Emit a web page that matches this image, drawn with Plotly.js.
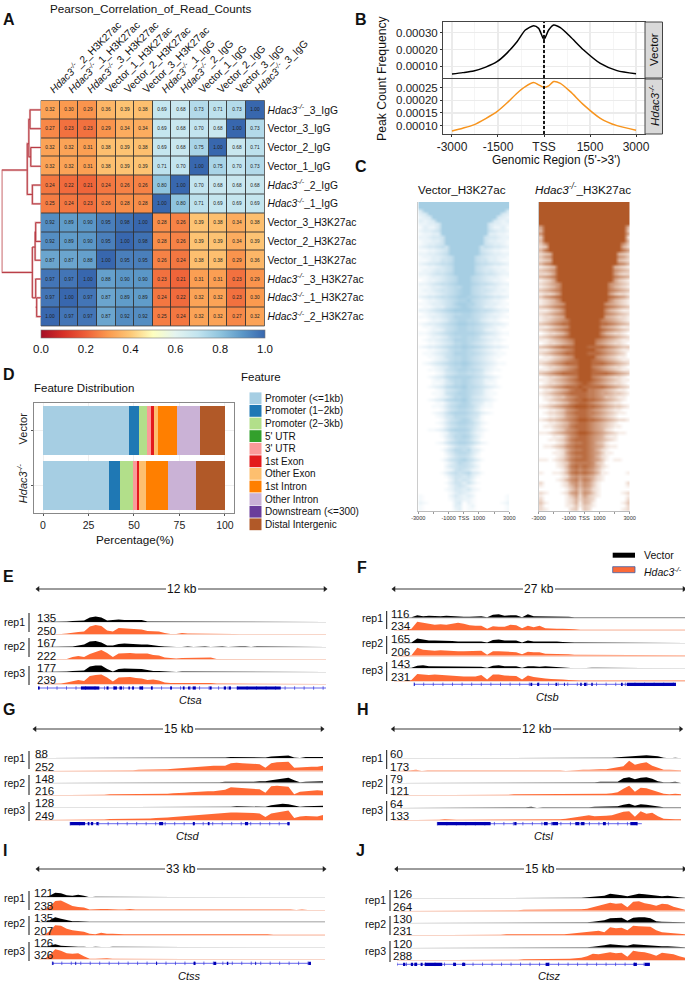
<!DOCTYPE html>
<html><head><meta charset="utf-8">
<script src="https://cdn.plot.ly/plotly-3.0.1.min.js"></script>
<style>html,body{margin:0;padding:0;background:#fff}</style></head>
<body><div id="chart" style="width:685px;height:984px"></div>
<script>
const W=685,H=984;
const KO='<i>Hdac3<sup>-/-</sup></i>';
// ---------- A: correlation ----------
const corrCols=[KO+'_2_H3K27ac',KO+'_1_H3K27ac',KO+'_3_H3K27ac','Vector_1_H3K27ac','Vector_2_H3K27ac','Vector_3_H3K27ac',KO+'_1_IgG',KO+'_2_IgG','Vector_1_IgG','Vector_2_IgG','Vector_3_IgG',KO+'_3_IgG'];
const corrRows=[KO+'_3_IgG','Vector_3_IgG','Vector_2_IgG','Vector_1_IgG',KO+'_2_IgG',KO+'_1_IgG','Vector_3_H3K27ac','Vector_2_H3K27ac','Vector_1_H3K27ac',KO+'_3_H3K27ac',KO+'_1_H3K27ac',KO+'_2_H3K27ac'];
const corrZ=[
[.32,.30,.29,.36,.39,.38,.69,.68,.73,.71,.73,1.00],
[.27,.23,.23,.29,.34,.34,.69,.68,.70,.68,1.00,.73],
[.32,.32,.31,.38,.39,.38,.69,.68,.75,1.00,.68,.71],
[.32,.32,.31,.38,.39,.39,.71,.70,1.00,.75,.70,.73],
[.24,.22,.21,.24,.26,.26,.80,1.00,.70,.68,.68,.68],
[.25,.24,.23,.26,.28,.28,1.00,.80,.71,.69,.69,.69],
[.92,.89,.90,.95,.98,1.00,.28,.26,.39,.38,.34,.38],
[.92,.89,.90,.95,1.00,.98,.28,.26,.39,.39,.34,.39],
[.87,.87,.88,1.00,.95,.95,.26,.24,.38,.38,.29,.36],
[.97,.97,1.00,.88,.90,.90,.23,.21,.31,.31,.23,.29],
[.97,1.00,.97,.87,.89,.89,.24,.22,.32,.32,.23,.30],
[1.00,.97,.97,.87,.92,.92,.25,.24,.32,.32,.27,.32]];
const corrScale=[[0,'#a50f26'],[.1,'#d73027'],[.2,'#ee5f38'],[.3,'#fb9a4f'],[.4,'#fdc877'],[.5,'#feffc0'],[.6,'#e4f4f0'],[.7,'#c2e4ef'],[.8,'#8fc4de'],[.9,'#5b97c7'],[1,'#3867ae']];
const dendroX=[.35,1,1,.22,null,0,.22,.22,0,null,.22,.35,.35,.31,null,.28,.31,.31,.26,null,0,.28,.28,0,null,0,.26,.26,0,null,.22,.22,null,.22,.15,null,0,.15,.15,.135,null,0,.135,.135,0,null,.22,.135,.135,0,null,.135,.11,null,0,.11,.11,0];
const dendroY=[3.2,3.2,8.65,8.65,null,4,4,5,5,null,4.5,4.5,1.8,1.8,null,.5,.5,2.5,2.5,null,0,0,1,1,null,2,2,3,3,null,7.3,10,null,7.3,7.3,null,8,8,6.5,6.5,null,6,6,7,7,null,10,10,9,9,null,10.5,10.5,null,10,10,11,11];
// ---------- B: peak profile ----------
const profX=[-3000,-2650,-2293,-1900,-1533,-1200,-880,-609,-337,-174,0,152,315,533,859,1293,1837,2380,3000];
const profVector=[.000054,.000062,.000072,.000095,.000127,.00018,.000246,.000316,.000342,.000326,.00026,.000316,.000346,.00033,.000276,.000197,.000117,.000074,.000056];
const profKO=[.000079,.00009,.000103,.000128,.000155,.00019,.000228,.000254,.00027,.000261,.000251,.000257,.000274,.000267,.000234,.000182,.000129,.0001,.000082];
// ---------- C: read density heatmaps (row strings, one digit per bin, 0-9) ----------
const heatVector=["999999999999999999999","999999999999999999999","499999999999999999994","349999999999999999943","234999999999999999432","323499999999999994323","223349999999999943322","132249999999999942231","233459999999999954332","122339999999999933221","223445999999999544322","122335999999999533221","123345999999999543321","234456599999995654432","112234599999995432211","223345699999996543322","122334569999965433221","112335569999965533211","234456679999976654432","112234569999965432211","122344569999965443221","223455679999976554322","112334567999765433211","012234567999765432210","223456678999876654322","112334567799765433211","122345567899765543221","112234567899765432211","234456678998876654432","012234567889765432210","112334568998865433211","011233567898765332110","223456789999876654322","012234567788765432210","112334568888765433211","001223467887764322100","123345678998876543321","011234567887765432110","001223567887765322100","112345678888876543211","001223467787764322100","012234568887765432210","001123457787654321100","123345678898876543321","001123467787654321100","011234568887765432110","001123567787654321100","000123467787654321000","012345678898765432110","000123467787654321000","001123567887765321100","000012456776654210000","001234678888765432100","000122467787654221000","000112457787654211000","001234678897765432100","000012456787654210000","000112567887654211000","000012357787543210000","001234678897654321000","000011356787543110000","000112467887642110000","000001356776531000000","000123578887653210000","000012457776541000000","000001356787531000000","000012467887642100000","000001356776531000000","001123578887532100000","000001256776421000000","000001357787531000000","000000246776420000000","000012467887642100000","000000135665310000000","000001357767431000000","000000246776420000000","000000135665310000000","000001356786531000000","000000135765310000000","000000245665420000000","000000125654210000000","000001356567431000000","000000135545310000000","000000025454200000000","000000135535310000000","000000024542100000000","000000124434210000000","000000013432100000000","100000024323200000001","100000013322100000001","210000003402100000012","100000003301200000001","100000002301100000001"];
const heatKO=["999999999999999999999","999999999999999999999","999999999999999999999","999999999999999999999","999999999999999999999","999999999999999999999","999999999999999999999",
"599999999999999999994","499999999999999999993","699999999999999999995","399999999999999999992","499999999999999999994",
"369999999999999999963","239999999999999999942","479999999999999999975",
"234999999999999999432","356999999999999999653","234999999999999999432","467999999999999999764",
"123499999999999994321","345699999999999996543","223599999999999995322","456799999999999997654","123599999999999995321",
"234569999999999965432","123469999999999964321","345679999999999976543","122359999999999953221","356789999999999987653","123469999999999964321",
"123456999999999654321","345678999999999876543","112346999999999643211","234567999999999765432","122345999999999543221",
"123456799999997654321","345678899999998876543","112345699999996543211","234567899999998765432","012234699999996432210","234567899999998765432",
"112345679999976543211","012234569999965432210","345678889998888765433".slice(0,21),"112345679999976543211","234567889998887654320".slice(0,21),"011234569999965432110",
"112345678999876543211","234567888999888765432","012234567999765432210","112345678999876543211","345678888999888876543","012234567999765432210","112345678999876543211",
"012234567898765432210","234567888988888765432",
"011234578897765432110","123456788887765543321","011233567887765332110","012345678898876543210","001123467887654321100","123456789998876543321","001123567887654321100","012234678887765432110","001123567887654321000","123345678998876543221","001123467887654321000","011234578887654321100","000123567887654210000","112345678998765432110","000112467887654211000","001123578887654321000","000012467787643100000","011234678887654211000","000012467787642100000","000112578887653110000","000012467787642100000","110123578887653101100","000012367777632000000","000012478787642100000","000001367676531000000","100112478787641100001","000001256565421000000","000012467576421000000","200001256465310000002","100001246465310000001","000000135354210000000","210001256365310000012","100000135253210000001","200000124243200000002","310000124143100000013","200000113132100000002","210000023032000000012"];
// ---------- D: feature distribution ----------
const features=['Promoter (<=1kb)','Promoter (1\u22122kb)','Promoter (2\u22123kb)',"5' UTR","3' UTR",'1st Exon','Other Exon','1st Intron','Other Intron','Downstream (<=300)','Distal Intergenic'];
const featureColors=['#a6cee3','#1f78b4','#b2df8a','#33a02c','#fb9a99','#e31a1c','#fdbf6f','#ff7f00','#cab2d6','#6a3d9a','#b15928'];
const featVector=[47.4,5.5,4.4,.1,1.7,1.7,2.4,10.4,12.7,0,13.7];
const featKO=[36.1,6.4,6.8,.05,2.15,1.5,3.4,12.1,15.7,0,15.8];
// ---------- E-J: tracks (height per 2% of the window) ----------
const ctsa=[[0,0,0,0,1,1,2,2,3,9,11,9,3,4,5,4,4,5,4,1,1,1,1,0,1,0,0,0,1,0,0,0,0,1,0,0,1,0,0,0,0,1,0,0,1,0,0,1,0,0,0],
[0,0,0,0,1,2,4,5,6,16,19,17,8,6,13,12,12,11,10,7,7,6,3,1,1,3,2,2,2,1,1,1,1,1,1,0,0,0,0,0,0,0,0,0,0,0,0,0,0,0,0],
[0,0,0,0,0,1,1,3,5,11,12,9,3,3,6,7,6,6,5,5,3,2,1,0,0,0,1,0,1,1,0,1,1,0,1,1,1,0,1,1,1,0,1,1,0,0,1,0,0,1,0],
[0,0,0,0,0,1,5,7,5,11,15,19,13,5,12,13,13,12,12,12,9,8,4,3,2,3,3,4,4,3,4,1,1,1,1,1,1,1,1,1,1,1,1,1,1,1,1,1,1,1,0],
[0,0,0,0,0,1,2,3,3,11,13,13,6,1,6,7,7,6,6,4,2,2,1,0,0,1,1,0,1,0,0,1,0,0,1,1,0,1,0,0,0,1,0,0,1,1,0,0,1,0,0],
[0,0,1,0,1,3,6,8,6,16,18,19,13,5,13,14,14,12,11,8,9,7,3,2,2,3,2,2,2,2,2,1,1,1,1,1,1,1,1,1,1,1,1,1,1,1,1,1,1,1,0]];
const ctsb=[[0,0,0,1,5,3,4,3,3,4,3,2,2,2,3,3,1,6,7,4,5,5,1,7,3,3,3,2,3,2,2,1,1,1,1,0,1,1,0,1,0,1,1,1,1,1,1,1,1,1,1],
[0,0,1,3,17,15,13,11,12,11,13,15,13,10,9,9,3,8,7,7,11,10,4,9,6,9,4,3,3,3,3,2,1,1,1,1,1,1,1,1,1,1,1,1,1,1,0,1,1,1,1],
[0,0,0,1,9,7,5,5,5,5,4,3,3,3,3,3,1,6,7,5,5,5,1,5,3,3,4,3,3,2,1,1,1,1,1,1,1,1,1,0,1,0,1,1,1,0,0,1,1,1,0],
[0,0,0,1,16,12,11,10,11,10,10,9,9,9,9,10,2,9,9,8,8,7,3,8,7,7,4,4,4,3,3,2,2,1,2,1,1,1,1,1,1,1,1,1,1,1,1,1,1,1,1],
[0,0,0,1,5,6,4,4,4,3,3,3,3,3,3,3,1,5,6,4,4,4,1,4,4,3,4,3,2,2,1,0,0,1,1,1,1,1,1,0,0,1,0,0,1,0,0,0,1,0,0],
[0,0,0,2,14,13,12,13,12,11,10,9,9,9,9,12,3,13,13,11,10,10,3,11,8,6,5,4,4,3,2,1,1,1,1,1,1,1,1,1,1,1,1,1,1,1,1,1,1,1,1]];
const ctsd=[[0,1,0,0,0,0,1,0,0,0,0,0,1,0,0,0,0,0,0,1,0,0,0,0,0,0,1,1,1,1,1,1,0,1,2,2,2,2,1,1,1,3,4,4,5,1,0,2,2,2,2],
[0,0,0,0,0,1,1,1,1,1,1,1,1,1,1,1,1,1,2,2,2,3,3,3,4,5,5,6,7,8,9,10,10,10,15,16,15,14,14,13,6,15,17,18,18,6,7,8,8,8,10],
[0,0,0,1,0,0,1,0,1,0,0,1,0,0,1,0,1,0,0,0,1,0,1,0,1,0,0,1,0,0,1,0,1,2,2,1,1,2,2,3,3,5,7,9,10,5,1,2,2,2,3],
[0,0,0,0,0,1,1,1,1,1,1,1,1,2,2,2,2,2,2,3,3,3,3,3,4,4,5,6,7,7,8,8,9,11,16,15,14,14,13,12,5,18,19,18,17,2,7,8,9,10,9],
[0,0,0,0,1,0,0,0,0,1,0,0,0,1,0,1,0,0,1,0,0,0,1,0,0,1,1,1,0,0,1,1,1,1,1,2,2,2,2,1,1,4,6,7,6,4,1,2,2,2,3],
[0,0,0,0,1,1,1,1,1,1,1,1,1,2,2,2,2,3,3,3,3,4,4,5,6,7,8,9,10,11,12,13,13,14,15,15,15,15,14,13,6,13,15,17,19,4,7,8,7,7,10]];
const ctsl=[[0,0,0,0,0,0,0,0,0,0,0,0,0,1,0,0,0,0,0,0,0,0,0,0,0,0,0,0,0,0,0,0,0,1,1,0,0,0,1,2,3,4,4,6,6,5,4,1,0,1,0],
[0,0,0,1,2,0,1,1,1,1,1,1,1,1,1,1,1,1,1,2,1,2,1,1,1,1,2,2,2,1,0,1,1,2,2,3,3,3,5,6,9,20,12,15,17,10,6,2,2,1,1],
[0,0,0,0,0,0,0,1,0,0,0,0,0,0,0,1,0,0,0,0,0,0,0,0,0,1,1,0,0,0,0,0,0,1,1,1,2,2,3,2,9,11,7,10,11,8,3,1,1,2,0],
[0,0,0,1,0,0,1,0,1,0,1,1,1,1,1,1,1,1,1,1,1,2,2,3,3,2,2,3,3,2,2,2,2,2,3,3,3,3,4,6,13,19,7,15,14,10,6,3,2,3,2],
[0,0,0,0,1,1,1,0,1,1,0,1,0,1,1,0,1,0,1,1,1,0,1,1,2,0,1,1,0,0,0,1,0,0,1,2,2,2,2,3,6,8,4,7,6,4,2,1,1,1,1],
[0,0,0,1,0,1,0,1,1,2,1,1,1,1,1,2,1,1,1,2,2,2,1,1,1,1,1,1,1,2,3,5,7,9,10,8,8,9,10,14,17,18,7,18,13,15,8,3,2,2,2]];
const ctss=[[0,0,3,9,8,4,3,5,3,0,1,1,0,1,1,0,1,0,1,1,0,1,1,0,1,0,1,1,0,1,0,1,1,0,1,0,1,1,0,1,0,1,1,0,1,1,0,1,0,1,0],
[0,0,6,18,19,13,8,6,5,1,2,2,2,1,1,1,2,1,1,1,1,2,1,1,1,1,1,1,1,1,1,1,1,1,1,1,1,1,1,1,1,1,1,1,1,0,1,0,0,0,0],
[0,0,4,10,7,4,2,2,1,1,1,1,2,1,1,1,1,1,1,1,1,1,1,1,2,1,1,1,1,1,1,1,1,1,1,1,1,1,1,1,1,1,1,1,1,1,1,1,1,1,1],
[0,0,8,20,19,13,10,9,7,3,2,5,3,3,2,2,2,2,2,2,2,2,3,2,2,2,2,2,2,2,2,2,2,2,2,2,2,2,2,2,2,1,1,1,1,1,1,1,1,1,1],
[0,0,3,6,3,2,1,1,1,0,1,0,0,1,1,1,1,1,1,1,1,1,0,1,0,1,1,1,0,0,1,1,1,1,0,1,1,1,1,1,1,1,1,1,1,1,1,1,1,1,0],
[0,0,8,20,17,12,11,12,6,1,1,2,2,1,1,1,1,1,1,1,1,1,1,1,1,1,1,1,1,0,0,1,1,1,0,1,0,0,0,0,0,0,0,0,0,0,0,0,0,0,0]];
const ctsz=[[0,0,0,0,0,0,0,0,0,0,0,0,0,0,0,0,0,0,0,0,0,0,0,0,0,0,0,0,0,0,0,1,1,2,3,4,5,9,8,6,4,7,9,8,7,6,4,5,3,2,1],
[0,0,0,0,0,0,0,0,0,0,0,0,0,0,1,1,1,1,1,1,1,1,2,2,2,2,3,2,2,2,2,2,3,4,7,11,13,16,14,15,7,18,19,15,13,10,14,13,8,5,2],
[0,0,0,1,0,0,0,0,0,0,1,0,0,0,1,0,1,0,1,1,1,1,1,0,0,1,0,0,1,1,1,1,1,1,2,3,5,9,9,10,4,10,11,11,9,3,2,2,2,1,1],
[0,0,0,0,0,0,0,0,1,1,1,1,1,1,1,1,1,1,1,2,2,2,2,2,2,1,1,1,2,2,3,4,5,6,7,9,6,16,14,15,10,19,18,18,17,10,6,5,4,3,2],
[0,0,0,0,0,0,0,0,0,0,0,0,0,0,0,1,1,1,1,1,1,1,1,1,1,1,1,1,1,1,1,1,1,1,2,3,5,7,6,6,4,7,6,6,5,3,3,3,2,1,1],
[0,0,0,0,0,0,0,0,1,1,1,1,1,1,1,1,1,1,1,1,1,1,2,2,2,2,2,2,2,2,3,4,5,8,13,12,14,16,14,15,7,19,17,16,13,9,15,13,12,8,5]];
const exonsA=[[0,.6],[14.9,21.3],[23.8,24.5],[26.2,27.4],[28.3,29.2],[31.4,31.9],[32.7,33.3],[35.2,36.5],[39.2,39.8],[45.9,46.5],[50.3,50.9],[52.1,52.7],[53.7,54.8],[59.6,60.3],[64.5,65.3],[66.3,67],[69,84.3]];
const exonsB=[[6.9,7.1],[46.9,47.5],[49.2,49.8],[55.5,56],[58.4,58.7],[64,64.5],[65.3,66.1],[67.8,68.3],[78,78.6],[80,96.9]];
const exonsD=[[12.2,17.4],[18.3,18.8],[19.4,20.2],[21.3,22],[43.1,44.5],[54.8,55.5],[60,60.6],[72.9,74],[87.6,88.4]];
const exonsL=[[15.4,33.9],[42.1,42.9],[52.4,53.7],[55.3,57.3],[63.3,64.6],[65.3,66.5],[72.9,73.9],[82.4,84.9]];
const exonsS=[[5,5.4],[13,13.3],[41.2,41.5],[54.2,54.9],[61.2,62.1],[65.8,66.3],[75.7,76],[94.2,95.1]];
const exonsZ=[[2.1,2.9],[4.8,5.6],[6,7],[8.2,8.9],[9.6,15.7],[19.5,20.5],[22.6,23.7],[51.6,52.8],[82.1,83.3],[86,87.8]];
const panels=[
 {gene:'Ctsa',size:'12 kb',tracks:ctsa,scale:[135,250,167,222,177,239],exons:exonsA,span:[0,100],x0:38,x1:326,arrow:[38,325],ay:589,base:[622,634.5,647,659.5,672,684],gy:688,name:[190,700],repY:[622,646,673],barX:29,bars:[[613,632],[638,657],[666,685]],repX:25,numX:37},
 {gene:'Ctsb',size:'27 kb',tracks:ctsb,scale:[116,234,165,206,143,231],exons:exonsB,span:[6.9,96.9],x0:394,x1:685,arrow:[394,684],ay:589,base:[617.7,630.3,643,655.7,668.3,681],gy:684.3,name:[547,697],repY:[618,643,670],barX:386.7,bars:[[611,629],[636,654],[662,681]],repX:383,numX:391},
 {gene:'Ctsd',size:'15 kb',tracks:ctsd,scale:[88,252,148,216,128,249],exons:exonsD,span:[12.2,88.4],x0:35,x1:323,arrow:[35,322],ay:729,base:[758,770.7,782.7,795.3,807.3,820],gy:823.7,name:[188,836],repY:[758,783,810],barX:29,bars:[[751,769],[775,795],[802,821]],repX:25,numX:35},
 {gene:'Ctsl',size:'12 kb',tracks:ctsl,scale:[60,173,79,121,64,133],exons:exonsL,span:[15.4,86.4],x0:393,x1:681,arrow:[393.3,680.7],ay:729,base:[758.3,770.7,782.7,795.3,807.7,820.3],gy:823.7,name:[544,836],repY:[757.7,782.7,810],barX:386.7,bars:[[750,769],[775,794],[801,821]],repX:383,numX:390},
 {gene:'Ctss',size:'33 kb',tracks:ctss,scale:[121,238,135,207,126,326],exons:exonsS,span:[5,95.1],x0:38,x1:325,arrow:[38,324],ay:869,base:[897.3,910,922.3,935.3,947.3,959.3],gy:963.3,name:[189,976],repY:[898,923,951],barX:29,bars:[[891,910],[916,935],[942,961]],repX:25,numX:34},
 {gene:'Ctsz',size:'15 kb',tracks:ctsz,scale:[126,264,130,231,120,288],exons:exonsZ,span:[0,87.8],x0:397,x1:685,arrow:[396.7,684],ay:869,base:[898.3,910.7,922.7,935.3,947.7,960.3],gy:964.3,name:[549,976],repY:[900,924,951],barX:390,bars:[[890,911],[916,935],[941,962]],repX:386,numX:393}];
const panelLetters=[['A',3,20],['B',355,20],['C',355,166],['D',3,374],['E',3,576],['F',357,567],['G',3,709],['H',357,709],['I',3,850],['J',356,850]];

// ---------- layout helpers ----------
const FONT='"Liberation Sans",Arial,sans-serif';
const traces=[],shapes=[],annotations=[];
const layout={width:W,height:H,margin:{l:0,r:0,t:0,b:0},paper_bgcolor:'#fff',plot_bgcolor:'#fff',showlegend:false,autosize:false,font:{family:FONT,size:11,color:'#111'},shapes,annotations,barmode:'stack'};
let axN=0;
const fx=x=>x/W, fy=y=>1-y/H;
function axes(x0,y0,x1,y1,xa,ya){axN++;const s=axN===1?'':axN;
 layout['xaxis'+s]=Object.assign({domain:[fx(x0),fx(x1)],anchor:'y'+s,showgrid:false,zeroline:false},xa);
 layout['yaxis'+s]=Object.assign({domain:[fy(y1),fy(y0)],anchor:'x'+s,showgrid:false,zeroline:false},ya);
 return {xaxis:'x'+s,yaxis:'y'+s};}
function text(x,y,t,size,o){annotations.push(Object.assign({xref:'paper',yref:'paper',x:fx(x),y:fy(y),text:t,showarrow:false,font:{size:size,family:FONT,color:'#111'},xanchor:'center',yanchor:'middle',borderpad:0,borderwidth:0},o||{}));}
function rect(x0,y0,x1,y1,o){shapes.push(Object.assign({type:'rect',xref:'paper',yref:'paper',x0:fx(x0),x1:fx(x1),y0:fy(y0),y1:fy(y1)},o));}

// Panel letters
panelLetters.forEach(p=>text(p[1],p[2],'<b>'+p[0]+'</b>',16,{xanchor:'left'}));

// ---------- A ----------
const idx=corrCols.map((_,i)=>i), rowIdx=corrRows.map((_,i)=>i);
rect(41,100.5,264.5,326,{line:{color:'#555',width:.8},fillcolor:'#333',layer:'below'});
let a=axes(41,100.5,264.5,326,
 {side:'top',range:[-.5,11.5],tickvals:idx,ticktext:corrCols,tickangle:-45,ticklen:0,tickfont:{size:10.3,family:FONT,color:'#111'},showline:false},
 {side:'right',range:[11.5,-.5],tickvals:rowIdx,ticktext:corrRows,ticklen:0,tickfont:{size:10.3,family:FONT,color:'#111'},showline:false});
traces.push(Object.assign({type:'heatmap',z:corrZ,x:idx,y:rowIdx,zmin:0,zmax:1,colorscale:corrScale,xgap:.9,ygap:.9,hoverinfo:'skip',
 texttemplate:'%{z:.2f}',textfont:{size:4.8,color:'#222',family:FONT},
 colorbar:{orientation:'h',x:fx(41),xanchor:'left',y:fy(330),yanchor:'top',lenmode:'pixels',len:223.5,thicknessmode:'pixels',thickness:8,xpad:0,ypad:0,outlinewidth:.6,outlinecolor:'#777',tickvals:[0,.2,.4,.6,.8,1],ticktext:['0.0','0.2','0.4','0.6','0.8','1.0'],ticks:'',tickfont:{size:11.5,family:FONT,color:'#111'}}},a));
text(151,8,'Pearson_Correlation_of_Read_Counts',11.7);
let d=axes(1.7,100.5,41,326,{range:[1,0],visible:false},{range:[11.5,-.5],visible:false});
traces.push(Object.assign({type:'scatter',mode:'lines',x:dendroX,y:dendroY,line:{color:'#e3b3b3',width:2.2},hoverinfo:'skip'},d));
traces.push(Object.assign({type:'scatter',mode:'lines',x:dendroX,y:dendroY,line:{color:'#b22a36',width:.9},hoverinfo:'skip'},d));

// ---------- B ----------
const bX={range:[-3293,3293],showgrid:true,gridcolor:'#ebebeb',gridwidth:1.4,tickvals:[-3000,-1500,0,1500,3000],showline:true,mirror:true,linecolor:'#444',linewidth:1,
 minor:{showgrid:true,gridcolor:'#f1f1f1',gridwidth:.7,tickvals:[-2250,-750,750,2250]}};
const bY=o=>Object.assign({showgrid:true,gridcolor:'#ebebeb',gridwidth:1.4,showline:true,mirror:true,linecolor:'#444',linewidth:1,ticks:'outside',ticklen:2,tickcolor:'#333',tickfont:{size:11.5,family:FONT,color:'#222'},tickformat:'.5f'},o);
let b1=axes(443,22,645,78,Object.assign({},bX,{showticklabels:false,ticks:''}),bY({range:[.00003,.000364],tickvals:[.0001,.0002,.0003]}));
traces.push(Object.assign({type:'scatter',mode:'lines',x:profX,y:profVector,line:{color:'#000',width:1.5,shape:'spline',smoothing:.7},hoverinfo:'skip'},b1));
let b2=axes(443,79,645,134,Object.assign({},bX,{ticktext:['-3000','-1500','TSS','1500','3000'],ticks:'outside',ticklen:2,tickcolor:'#333',tickfont:{size:12,family:FONT,color:'#222'}}),bY({range:[.000067,.000284],tickvals:[.0001,.00015,.0002,.00025]}));
traces.push(Object.assign({type:'scatter',mode:'lines',x:profX,y:profKO,line:{color:'#f7941d',width:1.5,shape:'spline',smoothing:.7},hoverinfo:'skip'},b2));
[b1,b2].forEach(ax=>shapes.push({type:'line',xref:ax.xaxis,yref:ax.yaxis+' domain',x0:0,x1:0,y0:0,y1:1,line:{color:'#000',width:1.8,dash:'3px,2px'}}));
rect(645,22,662.5,78,{fillcolor:'#d9d9d9',line:{color:'#444',width:1}});
rect(645,79,662.5,134,{fillcolor:'#d9d9d9',line:{color:'#444',width:1}});
text(654,50,'Vector',11.5,{textangle:-90});
text(654,106,KO,11.5,{textangle:-90});
text(382,78,'Peak Count Frequency',12.2,{textangle:-90});
text(556,160,"Genomic Region (5'->3')",11.9);

// ---------- C ----------
function heat(strs,x0,x1,color){
 const z=strs.map(s=>s.split('').map(Number));
 const ax=axes(x0,202,x1,510.7,
  {range:[-3000,3000],tickvals:[-3000,-1000,0,1000,3000],ticktext:['-3000','-1000','TSS','1000','3000'],ticks:'outside',ticklen:2,tickcolor:'#999',showline:true,linecolor:'#bbb',linewidth:1,tickfont:{size:5.6,family:FONT,color:'#333'},minor:{tickvals:[-2000,2000],ticks:'outside',ticklen:2,tickcolor:'#999'}},
  {range:[strs.length-.5,-.5],showticklabels:false,ticks:'',showline:true,linecolor:'#ccc',linewidth:1});
 traces.push(Object.assign({type:'heatmap',z:z,x0:-3000+6000/42,dx:6000/21,y0:0,dy:1,zmin:0,zmax:9,zsmooth:'best',colorscale:[[0,'#ffffff'],[1,color]],showscale:false,hoverinfo:'skip'},ax));
}
heat(heatVector,418.3,509.3,'#a6cee3');
heat(heatKO,538.7,629.7,'#b15928');
text(462,189,'Vector_H3K27ac',11.7);
text(583,189,KO+'_H3K27ac',11.7);

// ---------- D ----------
const featCats=['Vector',KO];
let f=axes(34.3,403,234,512.7,
 {range:[-4.8,105],tickvals:[0,25,50,75,100],showgrid:true,gridcolor:'#efefef',gridwidth:1,showline:true,mirror:true,linecolor:'#888',linewidth:1.3,ticks:'outside',ticklen:2,tickcolor:'#555',tickfont:{size:10.5,family:FONT,color:'#222'}},
 {type:'category',categoryorder:'array',categoryarray:[KO,'Vector'],showgrid:true,gridcolor:'#efefef',gridwidth:1,showline:true,mirror:true,linecolor:'#888',linewidth:1.3,ticks:'outside',ticklen:2,tickcolor:'#555',tickangle:-90,tickfont:{size:11,family:FONT,color:'#222'}});
features.forEach((n,i)=>traces.push(Object.assign({type:'bar',orientation:'h',name:n,y:featCats,x:[featVector[i],featKO[i]],width:.9,marker:{color:featureColors[i],line:{width:0}},hoverinfo:'skip'},f)));
text(34,388,'Feature Distribution',11.5,{xanchor:'left'});
text(135,539,'Percentage(%)',11.7);
text(241,377,'Feature',11.5,{xanchor:'left'});
features.forEach((n,i)=>{const y=398.3+12.6*i;
 rect(249.5,y-5.9,261.5,y+5.9,{fillcolor:featureColors[i],line:{width:0}});
 text(265,y,n,10,{xanchor:'left'});});

// ---------- E-J ----------
panels.forEach(p=>{
 const sa=axes(p.arrow[0],p.ay-3,p.arrow[1],p.ay+3,{range:[0,100],visible:false},{range:[-1,1],visible:false});
 traces.push(Object.assign({type:'scatter',mode:'lines+markers',x:[0,100],y:[0,0],cliponaxis:false,line:{color:'#222',width:.9},marker:{symbol:['triangle-left','triangle-right'],size:5,color:'#222'},hoverinfo:'skip'},sa));
 text((p.arrow[0]+p.arrow[1])/2,p.ay,p.size,12,{bgcolor:'#fff',borderpad:1});
 p.tracks.forEach((vals,i)=>{
  const ax=axes(p.x0,p.base[i]-12,p.x1,p.base[i],{range:[0,100],showticklabels:false,ticks:'',showline:true,linecolor:i%2?'#f5c4b2':'#d8d8d8',linewidth:.7},{range:[0,24],visible:false});
  traces.push(Object.assign({type:'scatter',mode:'lines',x:vals.map((_,k)=>k*2),y:vals,fill:'tozeroy',fillcolor:i%2?'#ff6a35':'#000',line:{width:0},hoverinfo:'skip'},ax));
  text(p.numX,p.base[i]-4,String(p.scale[i]),11.5,{xanchor:'left'});
 });
 const gx=axes(p.x0,p.gy-3,p.x1,p.gy+3,{range:[0,100],visible:false},{range:[-1,1],visible:false});
 const strand=[];for(let s=p.span[0];s<=p.span[1];s+=3.3)strand.push(s);
 traces.push(Object.assign({type:'scatter',mode:'lines',x:p.span,y:[0,0],line:{color:'#4040e8',width:.8},hoverinfo:'skip'},gx));
 traces.push(Object.assign({type:'scatter',mode:'markers',x:strand,y:strand.map(()=>0),marker:{symbol:'line-ns',size:2.5,line:{color:'#3030d8',width:.7}},hoverinfo:'skip'},gx));
 const ex=[],ey=[];p.exons.forEach(e=>{ex.push(e[0],e[1],null);ey.push(0,0,null);});
 traces.push(Object.assign({type:'scatter',mode:'lines',x:ex,y:ey,line:{color:'#0000b4',width:3.2},hoverinfo:'skip'},gx));
 text(p.name[0],p.name[1],'<i>'+p.gene+'</i>',11);
 ['rep1','rep2','rep3'].forEach((r,i)=>{
  text(p.repX,p.repY[i],r,10.5,{xanchor:'right'});
  shapes.push({type:'line',xref:'paper',yref:'paper',x0:fx(p.barX),x1:fx(p.barX),y0:fy(p.bars[i][0]),y1:fy(p.bars[i][1]),line:{color:'#111',width:1}});
 });
});
rect(612.7,552.7,635,557.7,{fillcolor:'#000',line:{width:0}});
rect(612.7,566.7,635,572.7,{fillcolor:'#fb6a39',line:{color:'#3d5fa8',width:.8}});
text(644,555,'Vector',10.5,{xanchor:'left'});
text(644,571,KO,10.5,{xanchor:'left'});

Plotly.newPlot('chart',traces,layout,{displayModeBar:false,staticPlot:true});
</script></body></html>
